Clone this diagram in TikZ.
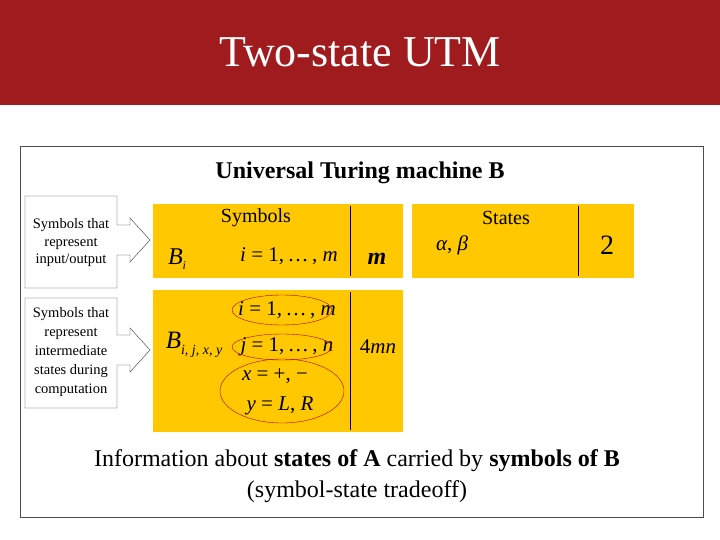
\documentclass[tikz,border=0pt]{standalone}
\usepackage{fontspec}
\setmainfont{Liberation Serif}
\begin{document}
\begin{tikzpicture}[x=1pt,y=-1pt,
  ell/.style={draw=red!70!black,thin},
  mth/.style={font=\fontsize{21}{24}\selectfont},
  callt/.style={font=\fontsize{14.5}{17.5}\selectfont,align=center,inner sep=0pt}]
\definecolor{titlered}{RGB}{160,27,29}
\definecolor{yellowbox}{RGB}{255,200,0}
\newcommand{\iv}[1]{\textit{#1}}
\useasboundingbox (0,0) rectangle (720,540);
\fill[white] (0,0) rectangle (720,540);
\fill[titlered] (0,0) rectangle (720,105);
\node (title) at (360,52) {\color{white}\fontsize{44}{50}\selectfont Two-state UTM};
\draw[black!70] (20,146) rectangle (703,517);
\node (hdr) at (360,173) {\fontsize{24}{28}\selectfont\textbf{Universal Turing machine B}};
% yellow boxes
\fill[yellowbox] (153,204) rectangle (403,278);
\fill[yellowbox] (412,204) rectangle (634,278);
\fill[yellowbox] (153,290) rectangle (403,432);
\draw (350,206) -- (350,276);
\draw (578,206) -- (578,276);
\draw (350,292) -- (350,430);
\node (sym) at (256,218) {\fontsize{20}{24}\selectfont Symbols};
\node (sta) at (506,218) {\fontsize{20}{24}\selectfont States};
\node[mth] (bi) at (177,259) {\fontsize{24}{28}\selectfont\iv{B}\raisebox{-5pt}{\fontsize{12}{14}\selectfont\iv{i}}};
\node[mth] (ri) at (289,256) {\iv{i} = 1,\,…\,, \iv{m}};
\node (m) at (377,259) {\fontsize{24}{28}\selectfont\textbf{\textit{m}}};
\node[mth] (ab) at (452,245) {\iv{α}, \iv{β}};
\node (two) at (607,245) {\fontsize{28}{32}\selectfont 2};
\node (bij) at (194,345) {\fontsize{25}{28}\selectfont\iv{B}\raisebox{-6pt}{\fontsize{14}{16}\selectfont\iv{i, j, x, y}}};
\node[mth] (e1t) at (287,310) {\iv{i} = 1,\,…\,, \iv{m}};
\node[mth] (e2t) at (287,347) {\iv{j} = 1,\,…\,, \iv{n}};
\node[mth] (xt) at (275,376) {\iv{x} = +, −};
\node[mth] (yt) at (280,406) {\iv{y} = \iv{L}, \iv{R}};
\node[mth] (fmn) at (378,347) {4\iv{mn}};
\draw[ell] (282,310) ellipse [x radius=50,y radius=15];
\draw[ell] (282,347) ellipse [x radius=50,y radius=13];
\draw[ell] (282,391) ellipse [x radius=62,y radius=32];
% callouts
\draw[black!80] (25,196) -- (117,196) -- (117,225) -- (130,225) -- (130,218) -- (150,240) -- (130,262) -- (130,255) -- (117,255) -- (117,288) -- (25,288) -- cycle;
\node[callt] (c1) at (71,243) {Symbols that\\represent\\input/output};
\draw[black!80] (25,298) -- (117,298) -- (117,335) -- (130,335) -- (130,328) -- (150,350) -- (130,372) -- (130,365) -- (117,365) -- (117,408) -- (25,408) -- cycle;
\node[callt,font=\fontsize{14.5}{19}\selectfont] (c2) at (71,352) {Symbols that\\represent\\intermediate\\states during\\computation};
\node[align=center,font=\fontsize{24}{31}\selectfont] (foot) at (357,476) {Information about \textbf{states of A} carried by \textbf{symbols of B}\\(symbol-state tradeoff)};
\end{tikzpicture}
\end{document}
